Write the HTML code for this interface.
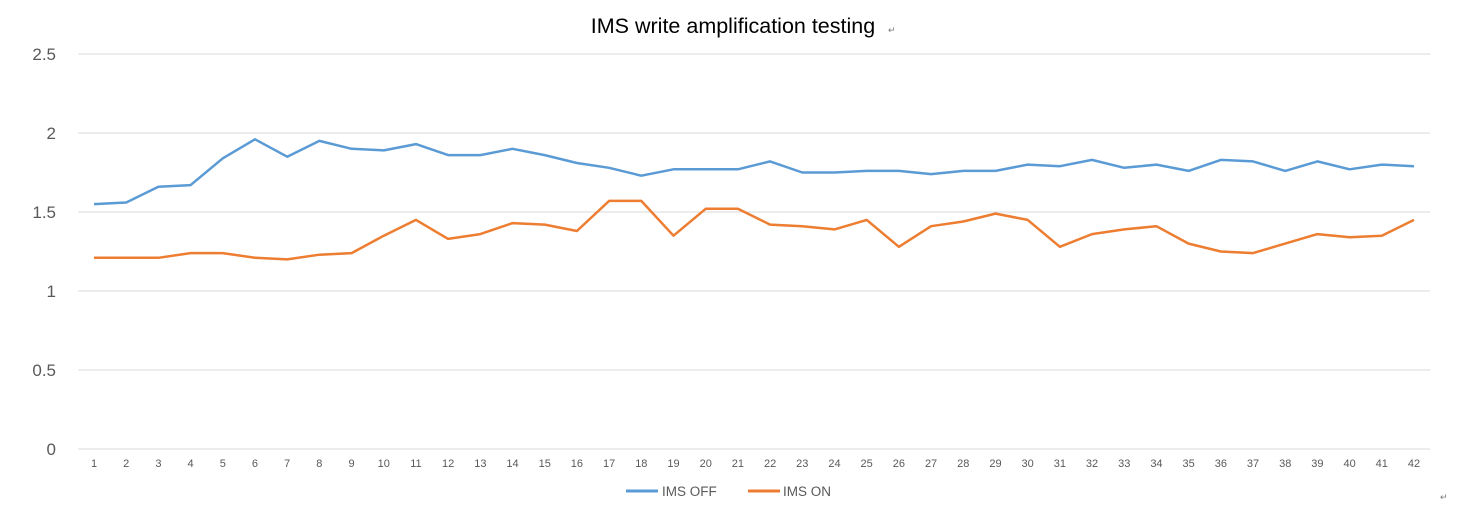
<!DOCTYPE html>
<html><head><meta charset="utf-8"><style>
html,body{margin:0;padding:0;background:#fff;width:1458px;height:512px;overflow:hidden}
svg{display:block;font-family:"Liberation Sans",sans-serif}
</style></head><body>
<svg id="c" width="1458" height="512" xmlns="http://www.w3.org/2000/svg">
<text x="733" y="33" text-anchor="middle" font-size="21.5" fill="#000">IMS write amplification testing</text>
<text x="888" y="33" font-size="9" fill="#777">↵</text>
<text x="1440" y="500" font-size="9" fill="#777">↵</text>
<g id="grid"></g>
<g id="xl" font-size="11" fill="#595959" text-anchor="middle"></g>
<polyline id="off" fill="none" stroke="#5B9BD5" stroke-width="2.5" stroke-linejoin="round"/>
<polyline id="on" fill="none" stroke="#ED7D31" stroke-width="2.5" stroke-linejoin="round"/>
<line x1="626" y1="491" x2="658" y2="491" stroke="#5B9BD5" stroke-width="3"/>
<text x="662" y="496" font-size="13.5" fill="#595959">IMS OFF</text>
<line x1="748" y1="491" x2="780" y2="491" stroke="#ED7D31" stroke-width="3"/>
<text x="783" y="496" font-size="13.5" fill="#595959">IMS ON</text>
</svg>
<script>
var off=[1.55,1.56,1.66,1.67,1.84,1.96,1.85,1.95,1.90,1.89,1.93,1.86,1.86,1.90,1.86,1.81,1.78,1.73,1.77,1.77,1.77,1.82,1.75,1.75,1.76,1.76,1.74,1.76,1.76,1.80,1.79,1.83,1.78,1.80,1.76,1.83,1.82,1.76,1.82,1.77,1.80,1.79];
var on=[1.21,1.21,1.21,1.24,1.24,1.21,1.20,1.23,1.24,1.35,1.45,1.33,1.36,1.43,1.42,1.38,1.57,1.57,1.35,1.52,1.52,1.42,1.41,1.39,1.45,1.28,1.41,1.44,1.49,1.45,1.28,1.36,1.39,1.41,1.30,1.25,1.24,1.30,1.36,1.34,1.35,1.45];
function X(i){return 94+i*1320/41}function Y(v){return 449-v*158}
var ns="http://www.w3.org/2000/svg",g=document.getElementById('grid'),xl=document.getElementById('xl');
["0","0.5","1","1.5","2","2.5"].forEach(function(t,k){var y=Y(k*0.5);
var l=document.createElementNS(ns,'line');l.setAttribute('x1',78);l.setAttribute('x2',1430);l.setAttribute('y1',y);l.setAttribute('y2',y);l.setAttribute('stroke','#D9D9D9');l.setAttribute('stroke-width',1);g.appendChild(l);
var tx=document.createElementNS(ns,'text');tx.setAttribute('x',56);tx.setAttribute('y',y+6);tx.setAttribute('text-anchor','end');tx.setAttribute('font-size','17');tx.setAttribute('fill','#595959');tx.textContent=t;g.appendChild(tx);});
for(var i=0;i<42;i++){var t=document.createElementNS(ns,'text');t.setAttribute('x',X(i));t.setAttribute('y',467);t.textContent=i+1;xl.appendChild(t);}
function pts(a){return a.map(function(v,i){return X(i).toFixed(1)+','+Y(v).toFixed(1)}).join(' ')}
document.getElementById('off').setAttribute('points',pts(off));
document.getElementById('on').setAttribute('points',pts(on));
</script>
</body></html>
